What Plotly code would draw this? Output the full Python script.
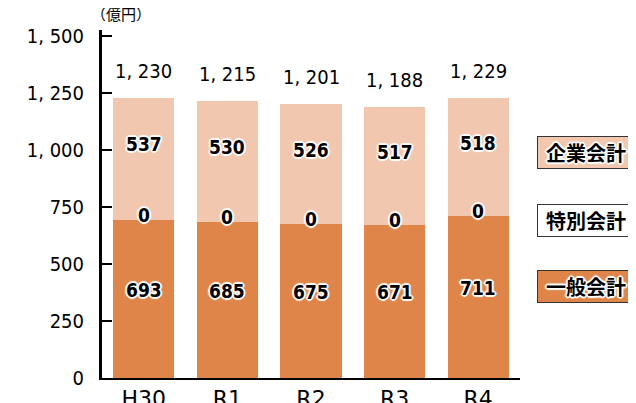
import plotly.graph_objects as go

categories = ["H30", "R1", "R2", "R3", "R4"]
general = [693, 685, 675, 671, 711]      # 一般会計
special = [0, 0, 0, 0, 0]                # 特別会計
enterprise = [537, 530, 526, 517, 518]   # 企業会計
totals = [1230, 1215, 1201, 1188, 1229]
ytick_vals = [0, 250, 500, 750, 1000, 1250, 1500]
ytick_text = ["0", "250", "500", "750", "1, 000", "1, 250", "1, 500"]

DARK = "#E08549"
LIGHT = "#F2C7AF"
NUM_FONT = "DejaVu Sans Condensed, sans-serif"
JP_FONT = "Noto Sans CJK JP, sans-serif"
HALO = "1px 1px 0px #fff, -1px -1px 0px #fff, 1px -1px 0px #fff, -1px 1px 0px #fff, 0px 2px 1px #fff, 0px -2px 1px #fff, 2px 0px 1px #fff, -2px 0px 1px #fff"

fig = go.Figure()
fig.add_trace(go.Bar(x=categories, y=general, marker_color=DARK, marker_line_width=0, name="一般会計"))
fig.add_trace(go.Bar(x=categories, y=special, marker_color="#ffffff", marker_line_width=0, name="特別会計"))
fig.add_trace(go.Bar(x=categories, y=enterprise, marker_color=LIGHT, marker_line_width=0, name="企業会計"))

inner_font = dict(family=NUM_FONT, size=19, color="#000", weight="bold", shadow=HALO)
ann = []
for c, g, s, e, t in zip(categories, general, special, enterprise, totals):
    ann.append(dict(x=c, y=g / 2 + 40, text=str(g), showarrow=False, font=inner_font))
    ann.append(dict(x=c, y=g + s, text=str(s), showarrow=False, yshift=5, font=inner_font))
    ann.append(dict(x=c, y=g + s + e * 0.62, text=str(e), showarrow=False, font=inner_font))
    ann.append(dict(x=c, y=t, text=f"{t // 1000}, {t % 1000:03d}", showarrow=False, yshift=27,
                    font=dict(family=NUM_FONT, size=20, color="#000")))

# unit label
ann.append(dict(xref="paper", yref="paper", x=0.045, y=1.0, xanchor="center", yanchor="bottom",
                yshift=4, text="（億円）", showarrow=False, font=dict(family=JP_FONT, size=15, color="#000")))

legend_items = [("企業会計", LIGHT, 0.647), ("特別会計", "#ffffff", 0.454), ("一般会計", DARK, 0.264)]
for txt, col, yp in legend_items:
    ann.append(dict(xref="paper", yref="paper", x=1.041, y=yp, xanchor="left", yanchor="middle",
                    text=txt, showarrow=False, bgcolor=col, bordercolor="#333", borderwidth=1,
                    borderpad=1, width=94, align="center",
                    font=dict(family=JP_FONT, size=20, color="#000", weight="bold", shadow=HALO)))

fig.update_layout(
    barmode="stack",
    bargap=0.27,
    width=636, height=403,
    margin=dict(l=94, r=124, t=22, b=33, autoexpand=False),
    plot_bgcolor="#fff", paper_bgcolor="#fff",
    showlegend=False,
    annotations=ann,
    xaxis=dict(showline=True, linecolor="#000", linewidth=2, ticks="", showgrid=False,
               automargin=False,
               tickfont=dict(family="DejaVu Sans, sans-serif", size=22, color="#000"),
               ticklabelstandoff=0),
    yaxis=dict(range=[0, 1526], tickvals=ytick_vals, ticktext=ytick_text, automargin=False,
               showline=True, linecolor="#000", linewidth=3, ticks="inside", ticklen=10,
               tickwidth=2, tickcolor="#000", showgrid=False, zeroline=False,
               tickfont=dict(family=NUM_FONT, size=20, color="#000"),
               ticklabelstandoff=11),
)

fig.write_html("out.html")
